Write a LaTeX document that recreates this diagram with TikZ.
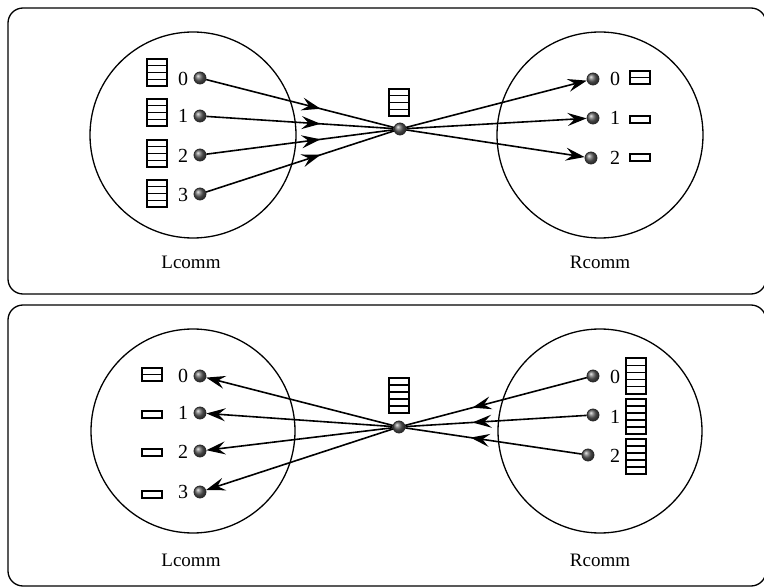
\documentclass[tikz,border=0pt]{standalone}
\usepackage{fontspec}
\setmainfont{Liberation Serif}
\usetikzlibrary{arrows.meta,decorations.markings}
\tikzset{
  tipst/.tip={Stealth[length=19pt, width=13pt, inset=7pt]},
  frame/.style={draw, line width=1.3pt, rounded corners=15pt},
  comm/.style={draw, line width=1.3pt},
  dot/.style={circle, draw=black!85, line width=0.8pt, minimum size=12pt, inner sep=0pt, shading=ball, ball color=gray!75!black},
  rk/.style={font=\fontsize{20}{22}\selectfont, inner sep=0pt},
  lbl/.style={font=\fontsize{19}{21}\selectfont, inner sep=0pt},
  conn/.style={line width=1.6pt},
  midarrow/.style={conn, postaction={decorate}, decoration={markings, mark=at position #1 with {\arrow{tipst}}}},
  endarrow/.style={conn, -{tipst}},
  bufline/.style={line width=1.2pt}
}
% \bufstack{left x}{top y}{cells}{cell height}
\newcommand{\bufstack}[4]{%
  \foreach \k in {1,...,#3} {
    \draw[bufline] (#1,{#2+(\k-1)*#4}) rectangle (#1+20,{#2+\k*#4});
  }%
}
\begin{document}
\begin{tikzpicture}[x=1pt,y=-1pt]
\useasboundingbox (0,0) rectangle (764,588);
% frames
\draw[frame] (8,8) rectangle (766,294);
\draw[frame] (8,305) rectangle (766,586);

% ===== top panel =====
\draw[comm] (193,135) circle (103);
\draw[comm] (600,135) circle (103);
\node[lbl] (tL) at (191,262) {Lcomm};
\node[lbl] (tR) at (600,262) {Rcomm};

\node[dot] (a0) at (200,78) {};
\node[dot] (a1) at (200,116) {};
\node[dot] (a2) at (200,155) {};
\node[dot] (a3) at (200,194) {};
\node[rk] (ad0) at (183,79) {0};
\node[rk] (ad1) at (183,116) {1};
\node[rk] (ad2) at (183,156) {2};
\node[rk] (ad3) at (183,195) {3};
\bufstack{147}{59}{4}{6.75}
\bufstack{147}{99}{4}{6.75}
\bufstack{147}{140}{4}{6.75}
\bufstack{147}{180}{4}{6.75}

\node[dot] (ac) at (400,129) {};
\bufstack{389}{89}{4}{6.75}

\node[dot] (b0) at (593,79) {};
\node[dot] (b1) at (593,118) {};
\node[dot] (b2) at (591,158) {};
\node[rk] (bd0) at (615,79) {0};
\node[rk] (bd1) at (615,118) {1};
\node[rk] (bd2) at (615,158) {2};
\bufstack{630}{71}{2}{6.5}
\bufstack{630}{116}{1}{7}
\bufstack{630}{154}{1}{7}

\draw[midarrow=0.61] (a0) -- (ac);
\draw[midarrow=0.61] (a1) -- (ac);
\draw[midarrow=0.61] (a2) -- (ac);
\draw[midarrow=0.61] (a3) -- (ac);
\draw[endarrow] (ac) -- (b0);
\draw[endarrow] (ac) -- (b1);
\draw[endarrow] (ac) -- (b2);

% ===== bottom panel =====
\draw[comm] (193,431) circle (102);
\draw[comm] (600,431) circle (102);
\node[lbl] (bL) at (191,560) {Lcomm};
\node[lbl] (bR) at (600,560) {Rcomm};

\node[dot] (c0) at (200,376) {};
\node[dot] (c1) at (200,413) {};
\node[dot] (c2) at (200,451) {};
\node[dot] (c3) at (200,492) {};
\node[rk] (cd0) at (183,376) {0};
\node[rk] (cd1) at (183,413) {1};
\node[rk] (cd2) at (183,452) {2};
\node[rk] (cd3) at (183,492) {3};
\bufstack{142}{368}{2}{6.5}
\bufstack{142}{411}{1}{7}
\bufstack{142}{449}{1}{7}
\bufstack{142}{491}{1}{7}

\node[dot] (cc) at (399,427) {};
\bufstack{389}{378}{5}{7}

\node[dot] (e0) at (593,376) {};
\node[dot] (e1) at (593,415) {};
\node[dot] (e2) at (588,455) {};
\node[rk] (ed0) at (615,377) {0};
\node[rk] (ed1) at (615,417) {1};
\node[rk] (ed2) at (615,456) {2};
\bufstack{626}{358}{5}{7.2}
\bufstack{626}{399}{5}{7}
\bufstack{626}{439}{5}{7}

\draw[midarrow=0.63] (e0) -- (cc);
\draw[midarrow=0.63] (e1) -- (cc);
\draw[midarrow=0.63] (e2) -- (cc);
\draw[endarrow] (cc) -- (c0);
\draw[endarrow] (cc) -- (c1);
\draw[endarrow] (cc) -- (c2);
\draw[endarrow] (cc) -- (c3);
\end{tikzpicture}
\end{document}
